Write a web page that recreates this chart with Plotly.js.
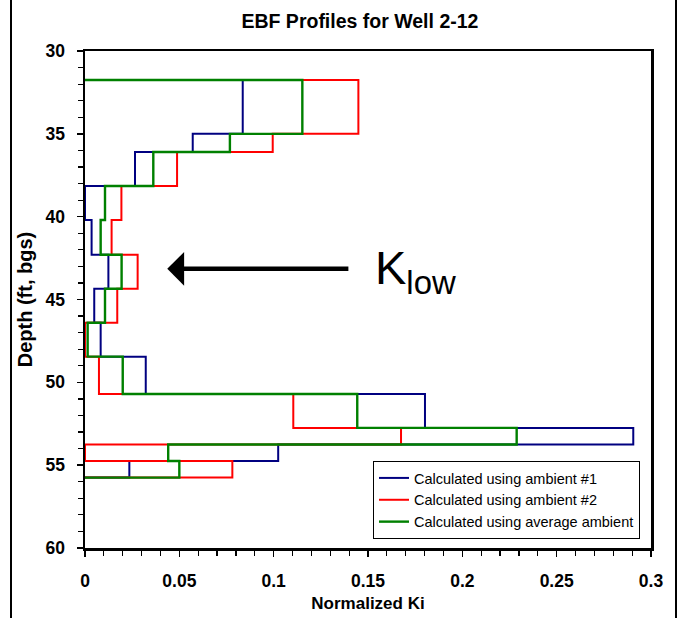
<!DOCTYPE html>
<html>
<head>
<meta charset="utf-8">
<script src="https://cdn.plot.ly/plotly-3.0.1.min.js"></script>
<style>
  html, body { margin: 0; padding: 0; background: #fff; }
  #chart { width: 683px; height: 618px; }
</style>
</head>
<body>
<div id="chart"></div>
<script>
// Depth interval boundaries (ft below ground surface)
const depthBounds = [31.75, 35.0, 36.1, 38.15, 40.2, 42.3, 44.35, 46.4, 48.45, 50.7, 52.75, 53.75, 54.75, 55.75];

// Normalized Ki per interval, one value between each pair of boundaries
const kiAmbient1 = [0.0836, 0.0571, 0.0265, 0.0, 0.0035, 0.0124, 0.0049, 0.0083, 0.0322, 0.1802, 0.2906, 0.1024, 0.0235];
const kiAmbient2 = [0.1449, 0.0995, 0.0488, 0.0193, 0.0141, 0.0279, 0.0171, 0.0, 0.0074, 0.1104, 0.1675, 0.0, 0.0781];
const kiAverage  = [0.1152, 0.0768, 0.0362, 0.0106, 0.0083, 0.0194, 0.0106, 0.0014, 0.0200, 0.1443, 0.2288, 0.0441, 0.0500];

const seriesNames = ['Calculated using ambient #1', 'Calculated using ambient #2', 'Calculated using average ambient'];
const seriesColors = ['#000080', '#FF0000', '#008000'];
const seriesWidths = [2, 2, 2.4];

// Build a closed step profile: starts at the axis, steps through every interval, returns to the axis
function stepProfile(bounds, vals) {
  const x = [0], y = [bounds[0]];
  for (let i = 0; i < vals.length; i++) {
    x.push(vals[i], vals[i]);
    y.push(bounds[i], bounds[i + 1]);
  }
  x.push(0);
  y.push(bounds[bounds.length - 1]);
  return { x, y };
}

const FONT = 'Liberation Sans, Arial, Helvetica, sans-serif';

const traces = [kiAmbient1, kiAmbient2, kiAverage].map((vals, i) => {
  const p = stepProfile(depthBounds, vals);
  return {
    type: 'scatter',
    mode: 'lines',
    x: p.x,
    y: p.y,
    name: seriesNames[i],
    line: { color: seriesColors[i], width: seriesWidths[i] },
    cliponaxis: false
  };
});

const L = 85, R = 32, T = 51, B = 70;
const W = 683, H = 618;
const pw = W - L - R;
const ph = H - T - B;

const tickFont = { family: FONT, size: 17.5, weight: 'bold', color: '#000' };

const layout = {
  width: W,
  height: H,
  margin: { l: L, r: R, t: T, b: B, autoexpand: false },
  paper_bgcolor: '#ffffff',
  plot_bgcolor: '#ffffff',
  font: { family: FONT, color: '#000' },
  showlegend: true,
  title: {
    text: 'EBF Profiles for Well 2-12',
    font: { family: FONT, size: 19.5, weight: 'bold', color: '#000' },
    x: 0.527, xanchor: 'center', xref: 'container',
    y: 0.966, yanchor: 'middle', yref: 'container'
  },
  xaxis: {
    range: [0, 0.3],
    autorange: false,
    tick0: 0,
    dtick: 0.05,
    ticks: 'outside',
    ticklen: 6,
    tickwidth: 1.5,
    tickcolor: '#000',
    ticklabelstandoff: 9,
    tickfont: tickFont,
    minor: { dtick: 0.01, ticks: 'outside', ticklen: 5, tickwidth: 1.2, tickcolor: '#000', showgrid: false },
    showgrid: false,
    zeroline: false,
    showline: true,
    linecolor: '#000',
    linewidth: 2.5,
    mirror: true,
    title: {
      text: 'Normalized Ki',
      font: { family: FONT, size: 17, weight: 'bold', color: '#000' },
      standoff: 8
    }
  },
  yaxis: {
    range: [60, 30],
    autorange: false,
    tick0: 30,
    dtick: 5,
    ticks: 'outside',
    ticklen: 6,
    tickwidth: 1.5,
    tickcolor: '#000',
    ticklabelstandoff: 8,
    tickfont: tickFont,
    minor: { dtick: 1, ticks: 'outside', ticklen: 5, tickwidth: 1.2, tickcolor: '#000', showgrid: false },
    showgrid: false,
    zeroline: false,
    showline: true,
    linecolor: '#000',
    linewidth: 2.5,
    mirror: true,
    title: {
      text: 'Depth (ft, bgs)',
      font: { family: FONT, size: 20, weight: 'bold', color: '#000' },
      standoff: 8
    }
  },
  legend: {
    x: (373 - L) / pw,
    y: (548 - 461) / ph,
    xanchor: 'left',
    yanchor: 'top',
    bgcolor: '#ffffff',
    bordercolor: '#000',
    borderwidth: 1,
    font: { family: FONT, size: 14.5, color: '#000' },
    tracegroupgap: 0
  },
  annotations: [
    {
      // arrow pointing at the low-K interval
      x: 0.0436, y: 43.15, xref: 'x', yref: 'y',
      ax: 0.1404, ay: 43.15, axref: 'x', ayref: 'y',
      text: '',
      showarrow: true,
      arrowhead: 1,
      arrowsize: 1.25,
      arrowwidth: 4.5,
      arrowcolor: '#000',
      standoff: 0
    },
    {
      x: 0.1525, y: 43.3, xref: 'x', yref: 'y',
      xanchor: 'left', yanchor: 'middle',
      text: 'K<sub>low</sub>',
      showarrow: false,
      font: { family: FONT, size: 47, color: '#000' }
    }
  ],
  shapes: [
    // outer frame sides
    { type: 'line', xref: 'paper', yref: 'paper', x0: (11 - L) / pw, x1: (11 - L) / pw, y0: -0.5, y1: 1.5, line: { color: '#000', width: 2 } },
    { type: 'line', xref: 'paper', yref: 'paper', x0: (676 - L) / pw, x1: (676 - L) / pw, y0: -0.5, y1: 1.5, line: { color: '#000', width: 2 } }
  ]
};

Plotly.newPlot('chart', traces, layout, { displayModeBar: false, staticPlot: true });
</script>
</body>
</html>
